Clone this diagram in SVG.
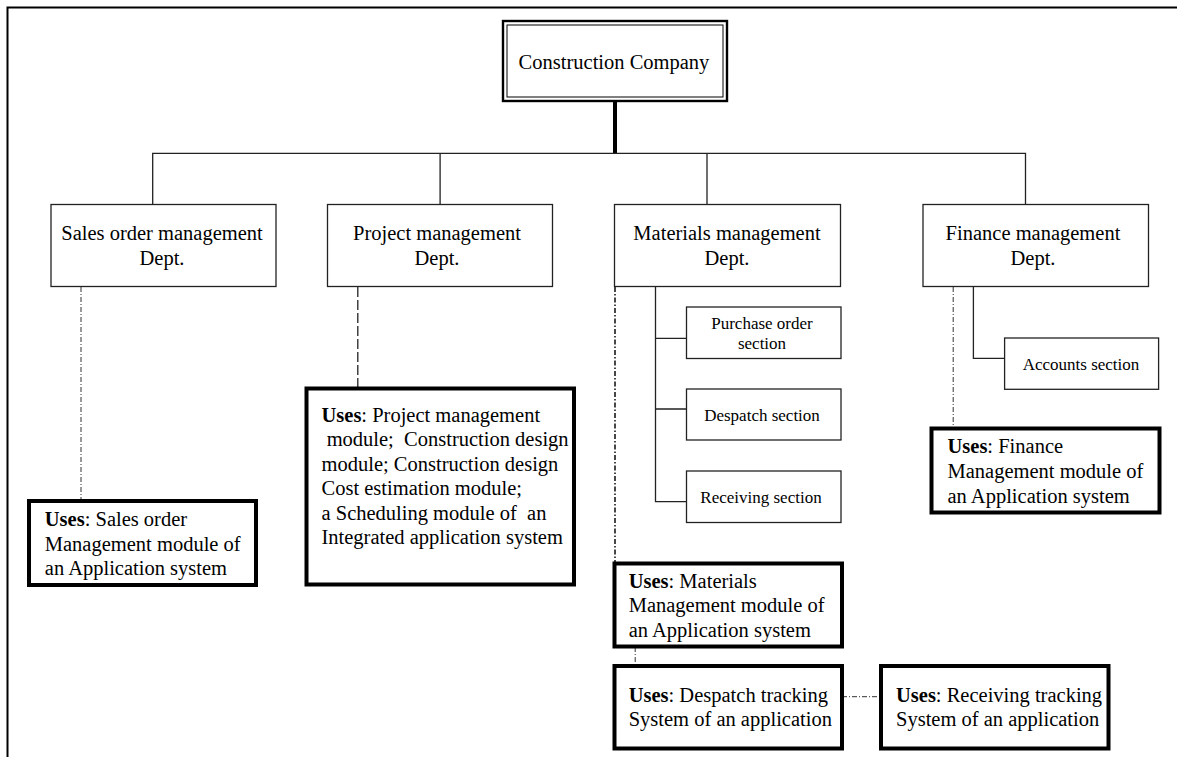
<svg xmlns="http://www.w3.org/2000/svg" width="1177" height="757" viewBox="0 0 1177 757">
<style>
text{font-family:"Liberation Serif","Times New Roman",serif;fill:#000}
.big{font-size:20.5px}
.sm{font-size:17px}
.mid{text-anchor:middle}
.box{fill:#fff;stroke:#222;stroke-width:1.3}
.ubox{fill:#fff;stroke:#000;stroke-width:4}
.ln{fill:none;stroke:#222;stroke-width:1.3}
.dd{fill:none;stroke:#333;stroke-width:1;stroke-dasharray:5 2 1 2}
.dd2{fill:none;stroke:#333;stroke-width:1.8;stroke-dasharray:5 2 1.5 2}
.dash{fill:none;stroke:#222;stroke-width:1.3;stroke-dasharray:10 3}
b,.b{font-weight:bold}
</style>
<rect width="1177" height="757" fill="#fff"/>
<path d="M7.5,757 V7.5 H1177" fill="none" stroke="#000" stroke-width="2"/>

<g id="connectors">
<line x1="615" y1="101" x2="615" y2="153.5" stroke="#000" stroke-width="4"/>
<path class="ln" d="M152.7,204 V153.3 H1025.5 V204 M440.1,153.3 V204 M707,153.3 V204"/>
<path class="ln" d="M655.5,287 V501.7 H686.6 M655.5,338.3 H686 M655.5,409 H686"/>
<path class="ln" d="M973.4,287 V358.3 H1004.6"/>
<line class="dd" x1="81" y1="287" x2="81" y2="500"/>
<line class="dash" x1="357.8" y1="287" x2="357.8" y2="388"/>
<line class="dd2" x1="615" y1="287" x2="615" y2="563"/>
<line class="dd" x1="953.2" y1="287" x2="953.2" y2="428"/>
<line class="dd" x1="635.2" y1="647" x2="635.2" y2="666"/>
<line class="dd" x1="842" y1="696.7" x2="881" y2="696.7"/>
</g>

<g id="company">
<rect x="503" y="21" width="224" height="80" fill="#fff" stroke="#000" stroke-width="2.4"/>
<rect x="507" y="25" width="216" height="72" fill="none" stroke="#000" stroke-width="1"/>
<text class="big mid" x="614" y="68.5">Construction Company</text>
</g>

<g id="sales-dept">
<rect class="box" x="51" y="204.5" width="225" height="82"/>
<text class="big mid" x="162" y="240">Sales order management</text>
<text class="big mid" x="162" y="264.5">Dept.</text>
</g>
<g id="project-dept">
<rect class="box" x="327.5" y="204.5" width="225" height="82"/>
<text class="big mid" x="437" y="240">Project management</text>
<text class="big mid" x="437" y="264.5">Dept.</text>
</g>
<g id="materials-dept">
<rect class="box" x="614.5" y="204.5" width="226" height="82"/>
<text class="big mid" x="727" y="240">Materials management</text>
<text class="big mid" x="727" y="264.5">Dept.</text>
</g>
<g id="finance-dept">
<rect class="box" x="923" y="204.5" width="225.5" height="82"/>
<text class="big mid" x="1033" y="240">Finance management</text>
<text class="big mid" x="1033" y="264.5">Dept.</text>
</g>

<g id="purchase-section">
<rect class="box" x="686.5" y="307" width="154.5" height="51.5"/>
<text class="sm mid" x="762" y="329">Purchase order</text>
<text class="sm mid" x="762" y="349">section</text>
</g>
<g id="despatch-section">
<rect class="box" x="686.5" y="389" width="154.5" height="51"/>
<text class="sm mid" x="762" y="421">Despatch section</text>
</g>
<g id="receiving-section">
<rect class="box" x="686.5" y="471" width="154.5" height="51.5"/>
<text class="sm mid" x="761" y="503.3">Receiving section</text>
</g>
<g id="accounts-section">
<rect class="box" x="1004.6" y="338" width="154" height="51.3"/>
<text class="sm mid" x="1081" y="370">Accounts section</text>
</g>

<g id="sales-uses">
<rect class="ubox" x="29" y="501" width="227" height="84"/>
<text class="big" x="44.8" y="526"><tspan class="b">Uses</tspan>: Sales order</text>
<text class="big" x="44.8" y="550.7">Management module of</text>
<text class="big" x="44.8" y="575">an Application system</text>
</g>
<g id="project-uses">
<rect class="ubox" x="306.5" y="388.5" width="267.5" height="196"/>
<text class="big" xml:space="preserve" x="321.5" y="422"><tspan class="b">Uses</tspan>: Project management</text>
<text class="big" xml:space="preserve" x="321.5" y="446.3"> module;  Construction design</text>
<text class="big" xml:space="preserve" x="321.5" y="470.7">module; Construction design</text>
<text class="big" xml:space="preserve" x="321.5" y="495">Cost estimation module;</text>
<text class="big" xml:space="preserve" x="321.5" y="519.5">a Scheduling module of  an</text>
<text class="big" xml:space="preserve" x="321.5" y="544">Integrated application system</text>
</g>
<g id="finance-uses">
<rect class="ubox" x="931.5" y="428.5" width="228" height="84"/>
<text class="big" x="947.5" y="453.3"><tspan class="b">Uses</tspan>: Finance</text>
<text class="big" x="947.5" y="478.3">Management module of</text>
<text class="big" x="947.5" y="502.7">an Application system</text>
</g>
<g id="materials-uses">
<rect class="ubox" x="614.5" y="563.5" width="227.5" height="83"/>
<text class="big" x="628.7" y="587.7"><tspan class="b">Uses</tspan>: Materials</text>
<text class="big" x="628.7" y="611.7">Management module of</text>
<text class="big" x="628.7" y="636.7">an Application system</text>
</g>
<g id="despatch-uses">
<rect class="ubox" x="614.5" y="666" width="227.5" height="82.5"/>
<text class="big" x="628.7" y="701.7"><tspan class="b">Uses</tspan>: Despatch tracking</text>
<text class="big" x="628.7" y="726">System of an application</text>
</g>
<g id="receiving-uses">
<rect class="ubox" x="881" y="666" width="227.5" height="82.5"/>
<text class="big" x="896" y="701.7"><tspan class="b">Uses</tspan>: Receiving tracking</text>
<text class="big" x="896" y="726">System of an application</text>
</g>
</svg>
